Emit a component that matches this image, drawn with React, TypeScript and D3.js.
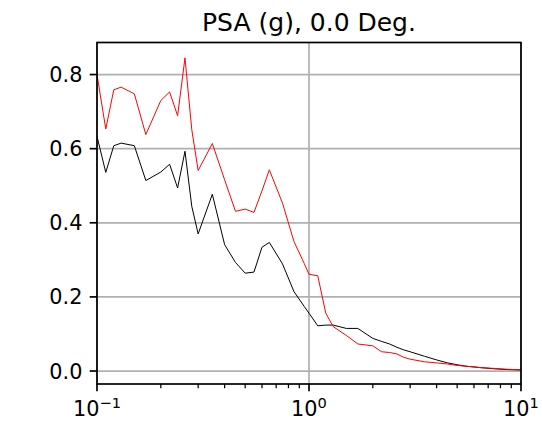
import React from "react";
import * as d3 from "d3";

const periods = [0.1, 0.11, 0.12, 0.13, 0.15, 0.17, 0.2, 0.22, 0.24, 0.26, 0.28, 0.3, 0.35, 0.4, 0.45, 0.5, 0.55, 0.6, 0.65, 0.75, 0.85, 0.95, 1.0, 1.1, 1.2, 1.3, 1.5, 1.7, 2.0, 2.2, 2.4, 2.6, 2.8, 3.0, 3.5, 4.0, 4.5, 5.0, 5.5, 6.0, 6.5, 7.5, 8.5, 10.0];
const redSeries = [0.8, 0.653, 0.759, 0.766, 0.748, 0.638, 0.73, 0.753, 0.689, 0.845, 0.651, 0.541, 0.614, 0.516, 0.431, 0.437, 0.428, 0.486, 0.543, 0.453, 0.349, 0.29, 0.261, 0.257, 0.156, 0.12, 0.096, 0.073, 0.068, 0.052, 0.05, 0.046, 0.037, 0.032, 0.025, 0.022, 0.019, 0.015, 0.013, 0.011, 0.009, 0.007, 0.005, 0.003];
const blackSeries = [0.633, 0.536, 0.608, 0.615, 0.608, 0.514, 0.537, 0.558, 0.494, 0.593, 0.444, 0.37, 0.477, 0.341, 0.293, 0.264, 0.267, 0.334, 0.347, 0.289, 0.214, 0.174, 0.156, 0.122, 0.124, 0.124, 0.115, 0.115, 0.088, 0.08, 0.073, 0.064, 0.057, 0.052, 0.04, 0.03, 0.022, 0.017, 0.013, 0.011, 0.009, 0.006, 0.004, 0.003];
const yTicks = [0, 0.2, 0.4, 0.6, 0.8];
const yTickLabels = ["0.0", "0.2", "0.4", "0.6", "0.8"];
const xMajor = [0.1, 1, 10];
const xMajorExp = ["\u22121", "0", "1"];
const title = "PSA (g), 0.0 Deg.";

const L = 97, R = 521, T = 42.5, B = 384;
const font = "DejaVu Sans, sans-serif";
const tickLen = 7.3;

export default function App() {
  const x = d3.scaleLog().domain([0.1, 10]).range([L, R]);
  const y = d3.scaleLinear().domain([-0.035, 0.8865]).range([B, T]);
  const line = d3.line<number>().x((_, i) => x(periods[i])).y((v) => y(v));
  const minor: number[] = [];
  [0.1, 1].forEach((d) => { for (let k = 2; k <= 9; k++) minor.push(d * k); });
  return (
    <svg width={542} height={422} style={{ position: "absolute", left: 0, top: 0 }}>
      <rect width={542} height={422} fill="#fff" />
      <text x={(L + R) / 2} y={31} textAnchor="middle" fontFamily={font} fontSize={25}>{title}</text>
      <defs>
        <clipPath id="plot"><rect x={L} y={T} width={R - L} height={B - T} /></clipPath>
      </defs>
      {yTicks.map((t) => (
        <line key={"gy" + t} x1={L} x2={R} y1={y(t)} y2={y(t)} stroke="#b0b0b0" strokeWidth={1.7} />
      ))}
      {xMajor.map((t) => (
        <line key={"gx" + t} x1={x(t)} x2={x(t)} y1={T} y2={B} stroke="#b0b0b0" strokeWidth={1.7} />
      ))}
      <g clipPath="url(#plot)">
        <path d={line(blackSeries) || ""} fill="none" stroke="#000" strokeWidth={1} />
        <path d={line(redSeries) || ""} fill="none" stroke="#ff0000" strokeWidth={1} />
      </g>
      <rect x={L} y={T} width={R - L} height={B - T} fill="none" stroke="#000" strokeWidth={1.7} />
      {yTicks.map((t, i) => (
        <g key={"yt" + t}>
          <line x1={L - tickLen} x2={L} y1={y(t)} y2={y(t)} stroke="#000" strokeWidth={1.7} />
          <text x={L - tickLen - 7.3} y={y(t)} dy="0.36em" textAnchor="end" fontFamily={font} fontSize={20.8}>{yTickLabels[i]}</text>
        </g>
      ))}
      {xMajor.map((t, i) => (
        <g key={"xt" + t}>
          <line x1={x(t)} x2={x(t)} y1={B} y2={B + tickLen} stroke="#000" strokeWidth={1.7} />
          <text x={x(t)} y={416} textAnchor="middle" fontFamily={font} fontSize={20.8}>
            10<tspan dy={-8} fontSize={14.6}>{xMajorExp[i]}</tspan>
          </text>
        </g>
      ))}
      {minor.map((t) => (
        <line key={"mt" + t} x1={x(t)} x2={x(t)} y1={B} y2={B + 4.2} stroke="#000" strokeWidth={1.25} />
      ))}
    </svg>
  );
}
